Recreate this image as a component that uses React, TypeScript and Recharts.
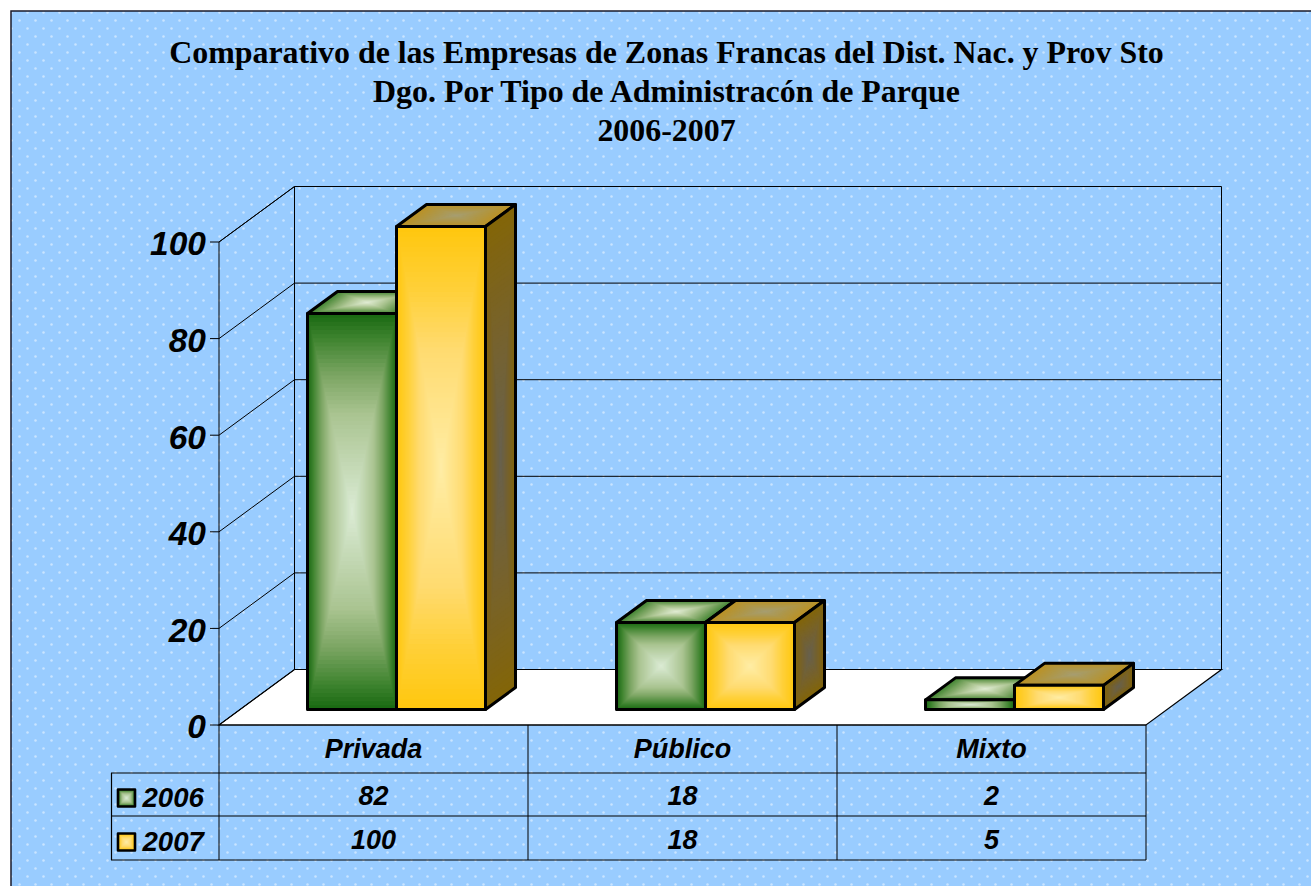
import React from 'react';
import { BarChart, Bar, XAxis, YAxis, Customized } from 'recharts';

const categories = ['Privada', 'Público', 'Mixto'];
const values2006 = [82, 18, 2];
const values2007 = [100, 18, 5];
const yTicks = [0, 20, 40, 60, 80, 100];
const titleLines = [
  'Comparativo de las Empresas de Zonas Francas del Dist. Nac. y Prov Sto',
  'Dgo. Por Tipo de Administracón de Parque',
  '2006-2007',
];
const seriesNames = ['2006', '2007'];

const rows = categories.map((name, i) => ({ name, y2006: values2006[i], y2007: values2007[i] }));

const W = 1311, H = 886;
const PL = 219, PR = 1146, PT = 242, PB = 725;
const DX = 75.5, DY = -55.5;
const BAR_DX = 22.5, BAR_DY = -15.5;
const DEPTH_X = 30, DEPTH_Y = -22;
const SANS = '"Liberation Sans", Arial, sans-serif';
const SERIF = '"Liberation Serif", "Times New Roman", serif';

type Stops = [number, string][];
const GREEN_FRONT: Stops = [[0, '#1b6a13'], [0.12, '#3f8430'], [0.3, '#7ba562'], [0.5, '#aac491'], [1, '#dcecd6']];
const GREEN_TOP: Stops = [[0, '#3f8430'], [0.3, '#7ba562'], [0.6, '#b0c896'], [1, '#e2edd6']];
const YELLOW_FRONT: Stops = [[0, '#ffc70f'], [0.25, '#ffd038'], [0.5, '#ffdb70'], [1, '#ffeda6']];
const YELLOW_TOP: Stops = [[0, '#bb9124'], [0.5, '#ae974a'], [1, '#a69e72']];
const YELLOW_SIDE: Stops = [[0, '#836508'], [0.5, '#76622e'], [1, '#67614f']];

function mix(stops: Stops, t: number): string {
  for (let i = 1; i < stops.length; i++) {
    if (t <= stops[i][0]) {
      const [a, ca] = stops[i - 1];
      const [b, cb] = stops[i];
      const f = (t - a) / (b - a);
      const ch = (c: string, k: number) => parseInt(c.slice(k, k + 2), 16);
      const v = [1, 3, 5].map((k) => Math.round(ch(ca, k) + (ch(cb, k) - ch(ca, k)) * f));
      return `rgb(${v[0]},${v[1]},${v[2]})`;
    }
  }
  return stops[stops.length - 1][1];
}

const STEPS = Array.from({ length: 48 }, (_, i) => i / 48);

function Face({ ox, oy, ux, uy, vx, vy, stops, sw = 3 }: any) {
  const pts = `${ox},${oy} ${ox + ux},${oy + uy} ${ox + ux + vx},${oy + uy + vy} ${ox + vx},${oy + vy}`;
  return (
    <g>
      <g transform={`matrix(${ux} ${uy} ${vx} ${vy} ${ox} ${oy})`}>
        {STEPS.map((t) => (
          <rect key={t} x={t / 2} y={t / 2} width={1 - t} height={1 - t} fill={mix(stops, t)} />
        ))}
      </g>
      <polygon points={pts} fill="none" stroke="#000" strokeWidth={sw} strokeLinejoin="round" />
    </g>
  );
}

function Bar3D({ x, y, width, height, front, top, side }: any) {
  const bx = x + BAR_DX;
  const by = y + BAR_DY;
  return (
    <g>
      <Face ox={bx} oy={by} ux={DEPTH_X} uy={DEPTH_Y} vx={width} vy={0} stops={top} />
      <Face ox={bx + width} oy={by} ux={DEPTH_X} uy={DEPTH_Y} vx={0} vy={height} stops={side} />
      <Face ox={bx} oy={by} ux={width} uy={0} vx={0} vy={height} stops={front} />
    </g>
  );
}

const yOf = (v: number) => PB - ((PB - PT) * v) / 100;

function Backdrop() {
  return (
    <g>
      <defs>
        <pattern id="dots" patternUnits="userSpaceOnUse" x={0} y={0} width={16} height={16}>
          <rect x={0} y={0} width={16} height={16} fill="#99ccff" />
          <circle cx={3.5} cy={4.5} r={1.25} fill="#ffffff" fillOpacity={0.48} />
          <circle cx={11.5} cy={12.5} r={1.25} fill="#ffffff" fillOpacity={0.48} />
        </pattern>
      </defs>
      <rect x={11} y={11} width={W + 20} height={H + 20} fill="url(#dots)" stroke="#1a1a2a" strokeWidth={1.5} />
      {titleLines.map((line, i) => (
        <text key={line} x={666.5} y={63 + i * 39} textAnchor="middle" fontFamily={SERIF} fontWeight={700} fontSize={31.9} fill="#000">
          {line}
        </text>
      ))}
      <polygon
        points={`${PL},${PB} ${PL + DX},${PB + DY} ${PR + DX},${PB + DY} ${PR},${PB}`}
        fill="#ffffff"
        stroke="#000"
        strokeWidth={1.2}
      />
      <polyline
        points={`${PL},${PT} ${PL + DX},${PT + DY} ${PL + DX},${PB + DY}`}
        fill="none"
        stroke="#000"
        strokeWidth={1}
      />
      {yTicks.map((v) => (
        <g key={v}>
          <line x1={PL} y1={yOf(v)} x2={PL + DX} y2={yOf(v) + DY} stroke="#000" strokeWidth={1} />
          <line x1={PL + DX} y1={yOf(v) + DY} x2={PR + DX} y2={yOf(v) + DY} stroke="#000" strokeWidth={1} />
        </g>
      ))}
      <line x1={PR + DX} y1={PT + DY} x2={PR + DX} y2={PB + DY} stroke="#000" strokeWidth={1} />
    </g>
  );
}

const COL = (PR - PL) / categories.length;

function DataTable() {
  const rowLines = [773, 816, 860];
  const baselines = [805, 849];
  const series = [values2006, values2007];
  const swatches = [GREEN_FRONT, YELLOW_FRONT];
  const textStyle = { fontFamily: SANS, fontWeight: 700, fontStyle: 'italic', fontSize: 27, fill: '#000' } as const;
  return (
    <g>
      {rowLines.map((y) => (
        <line key={y} x1={111} y1={y} x2={PR} y2={y} stroke="#000" strokeWidth={1.2} />
      ))}
      <line x1={111.5} y1={773} x2={111.5} y2={860} stroke="#000" strokeWidth={1.2} />
      {categories.map((_, i) => (
        <line key={i} x1={PL + i * COL} y1={PB} x2={PL + i * COL} y2={860} stroke="#000" strokeWidth={1} />
      ))}
      <line x1={PR} y1={PB} x2={PR} y2={860} stroke="#000" strokeWidth={1} />
      {series.map((vals, r) => (
        <g key={seriesNames[r]}>
          <Face ox={118} oy={baselines[r] - 15.5} ux={17} uy={0} vx={0} vy={17} stops={swatches[r]} sw={2.6} />
          <text x={142.5} y={baselines[r] + 2} {...textStyle} fontSize={27.6}>{seriesNames[r]}</text>
          {vals.map((v, i) => (
            <text key={i} x={PL + (i + 0.5) * COL} y={baselines[r]} textAnchor="middle" {...textStyle}>{v}</text>
          ))}
        </g>
      ))}
    </g>
  );
}

export default function App() {
  return (
    <div style={{ position: 'absolute', left: 0, top: 0, width: W, height: H, overflow: 'hidden', background: '#fff' }}>
      <BarChart
        width={W}
        height={H}
        data={rows}
        margin={{ top: PT, left: 0, right: W - PR, bottom: H - PB - 40 }}
        barGap={0}
        barCategoryGap={66}
      >
        <Customized component={<Backdrop />} />
        <XAxis
          dataKey="name"
          height={40}
          axisLine={{ stroke: '#000', strokeWidth: 1.2 }}
          tickLine={false}
          interval={0}
          tick={{ fontFamily: SANS, fontWeight: 700, fontStyle: 'italic', fontSize: 27, fill: '#000', dy: 2 }}
          tickMargin={6}
        />
        <YAxis
          width={PL}
          domain={[0, 100]}
          ticks={yTicks}
          tickSize={9}
          tickMargin={4}
          axisLine={{ stroke: '#000', strokeWidth: 1 }}
          tickLine={{ stroke: '#000', strokeWidth: 1 }}
          tick={{ fontFamily: SANS, fontWeight: 700, fontStyle: 'italic', fontSize: 33.5, fill: '#000', dy: 1.5 }}
        />
        <Bar
          dataKey="y2006"
          isAnimationActive={false}
          shape={(p: any) => <Bar3D {...p} front={GREEN_FRONT} top={GREEN_TOP} side={GREEN_TOP} />}
        />
        <Bar
          dataKey="y2007"
          isAnimationActive={false}
          shape={(p: any) => <Bar3D {...p} front={YELLOW_FRONT} top={YELLOW_TOP} side={YELLOW_SIDE} />}
        />
        <Customized component={<DataTable />} />
      </BarChart>
    </div>
  );
}
